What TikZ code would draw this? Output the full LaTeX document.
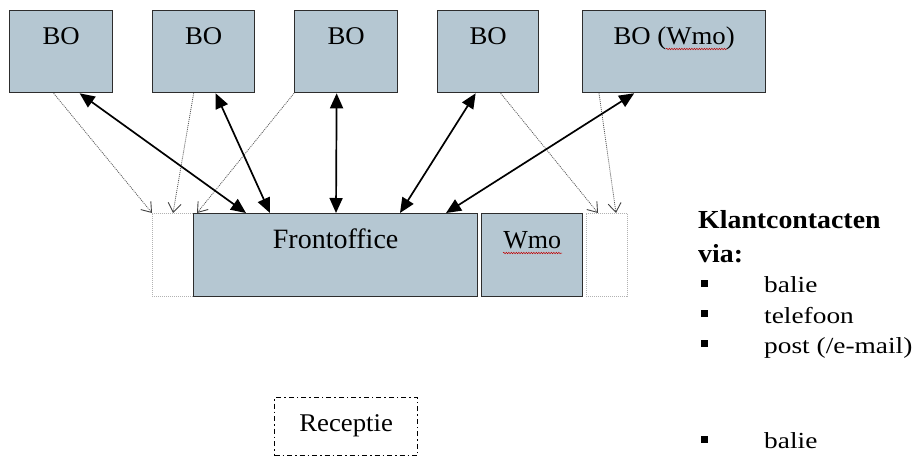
\documentclass[tikz,border=0pt]{standalone}
\usepackage{fontspec}
\setmainfont{Liberation Serif}[FakeStretch=1.05]
\newfontfamily\fofont{Liberation Serif}
\newfontfamily\kfont{Liberation Serif}[FakeStretch=1.07]
\newfontfamily\listfont{Liberation Serif}[FakeStretch=1.19]
\usetikzlibrary{arrows.meta,decorations.pathmorphing,calc}
\definecolor{boblue}{RGB}{181,199,210}
\definecolor{boxline}{RGB}{45,45,45}
\begin{document}
\begin{tikzpicture}[x=1pt,y=-1pt,
  every node/.style={font=\fontsize{25.5}{30}\selectfont},
  bobox/.style={draw=boxline,line width=1.3pt,fill=boblue,anchor=north west,
    inner xsep=0pt,inner ysep=17pt,text height=17pt,text depth=31pt,minimum height=82pt},
  fobox/.style={draw=boxline,line width=1.3pt,fill=boblue,anchor=north west,
    inner xsep=0pt,inner ysep=16pt,text height=19pt,text depth=32pt,minimum height=83pt},
  dotbox/.style={draw=gray!60,line width=0.6pt,dash pattern=on 1pt off 1pt,anchor=north west,
    inner sep=0pt,minimum height=83pt},
  recbox/.style={draw=black,line width=1.2pt,dash pattern=on 5pt off 3pt on 1.5pt off 3pt,
    anchor=north west,inner xsep=0pt,inner ysep=17pt,text height=17pt,text depth=7pt,
    minimum width=143pt,minimum height=58pt},
  dbl/.style={{Triangle[length=15pt,width=13pt]}-{Triangle[length=15pt,width=13pt]},line width=1.7pt},
  dotarr/.style={-{Straight Barb[length=9pt,width=13pt,line width=0.9pt,color=black!75]},
    draw=black!65,line width=0.8pt,dash pattern=on 1pt off 1pt},
  txt/.style={anchor=base west,inner sep=0pt},
  bul/.style={fill=black,inner sep=0pt,minimum size=7pt},
  squig/.style={draw=red!75!black,line width=0.5pt,decorate,
    decoration={snake,amplitude=0.7pt,segment length=2.5pt}}
]
\useasboundingbox (0,0) rectangle (917,457);

% back office boxes
\node[bobox,minimum width=103pt] (bo1) at (9,10) {BO};
\node[bobox,minimum width=102pt] (bo2) at (152,10) {BO};
\node[bobox,minimum width=103pt] (bo3) at (294,10) {BO};
\node[bobox,minimum width=101pt] (bo4) at (437,10) {BO};
\node[bobox,minimum width=183pt] (bo5) at (582,10) {BO (Wmo)};

% front office row
\node[dotbox,minimum width=41pt] (dl) at (152,213) {};
\node[dotbox,minimum width=41pt] (dr) at (586,213) {};
\node[fobox,minimum width=284pt,font=\fofont\fontsize{28}{32}\selectfont] (fo) at (193,213) {Frontoffice};
\node[fobox,minimum width=101pt,font=\fofont\fontsize{26}{30}\selectfont] (wmo) at (481,213) {Wmo};

% spell-check squiggles
\draw[squig] (666,49) -- (727,49);
\draw[squig] (503,253) -- (562,253);

% dotted arrows
\draw[dotarr] ([xshift=-7.5pt]bo1.south) -- (dl.north west);
\draw[dotarr] ([xshift=-10pt]bo2.south) -- ([xshift=21pt]dl.north west);
\draw[dotarr] (bo3.south west) -- ([xshift=4pt]fo.north west);
\draw[dotarr] ([xshift=12.5pt]bo4.south) -- ([xshift=12pt]dr.north west);
\draw[dotarr] ([xshift=17pt]bo5.south west) -- ([xshift=30pt]dr.north west);

% solid double arrows
\draw[dbl] ([xshift=18.5pt]bo1.south) -- ([xshift=53pt]fo.north west);
\draw[dbl] ([xshift=12pt]bo2.south) -- ([xshift=77pt]fo.north west);
\draw[dbl] ([xshift=-9.5pt]bo3.south) -- ([xshift=143pt]fo.north west);
\draw[dbl] ([xshift=-12.5pt]bo4.south) -- ([xshift=207pt]fo.north west);
\draw[dbl] ([xshift=-40pt]bo5.south) -- ([xshift=253pt]fo.north west);

% reception
\node[recbox] (rec) at (274,397) {Receptie};

% client contacts text
\node[txt,font=\kfont\fontsize{26}{30}\selectfont\bfseries] (k1) at (698,228) {Klantcontacten};
\node[txt,font=\kfont\fontsize{26}{30}\selectfont\bfseries] (k2) at (698,262) {via:};
\tikzset{lst/.style={txt,font=\listfont\fontsize{23}{27}\selectfont}}
\node[bul] (b1) at (704,283.5) {};
\node[lst] (t1) at (764,292) {balie};
\node[bul] (b2) at (704,313.5) {};
\node[lst] (t2) at (764,323) {telefoon};
\node[bul] (b3) at (704,343.5) {};
\node[lst] (t3) at (764,353) {post (/e-mail)};
\node[bul] (b4) at (704,439) {};
\node[lst] (t4) at (764,448) {balie};
\end{tikzpicture}
\end{document}
